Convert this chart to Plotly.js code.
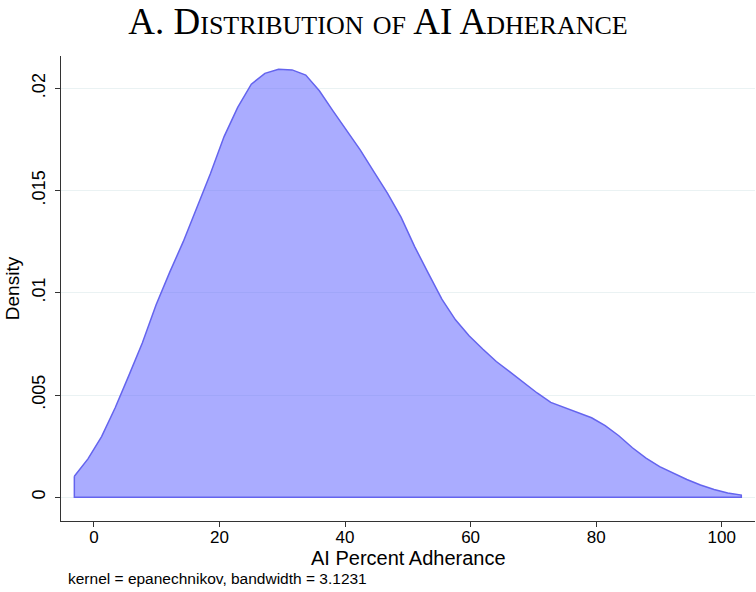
<!DOCTYPE html>
<html>
<head>
<meta charset="utf-8">
<script src="https://cdn.plot.ly/plotly-3.0.1.min.js"></script>
<style>html,body{margin:0;padding:0;background:#fff;}#chart{width:756px;height:592px;}</style>
</head>
<body>
<div id="chart"></div>
<script>
// Kernel density estimate evaluation points (AI percent adherence)
const adherence = [-3.123, -0.955, 1.214, 3.382, 5.550, 7.718, 9.886, 12.055, 14.223, 16.391,
  18.559, 20.727, 22.896, 25.064, 27.232, 29.400, 31.568, 33.737, 35.905, 38.073,
  40.241, 42.409, 44.578, 46.746, 48.914, 51.082, 53.250, 55.419, 57.587, 59.755,
  61.923, 64.091, 66.260, 68.428, 70.596, 72.764, 74.932, 77.101, 79.269, 81.437,
  83.605, 85.773, 87.942, 90.110, 92.278, 94.446, 96.614, 98.783, 100.951, 103.119];
const density = [0.00103, 0.00188, 0.00297, 0.00438, 0.00595, 0.00756, 0.0094, 0.0110, 0.0125, 0.01412,
  0.01583, 0.01764, 0.01907, 0.0202, 0.02073, 0.02093, 0.0209, 0.02065, 0.01988, 0.0189,
  0.01793, 0.01699, 0.01593, 0.01487, 0.0137, 0.01226, 0.01096, 0.00969, 0.00868, 0.0079,
  0.00725, 0.00664, 0.00613, 0.00562, 0.0051, 0.00464, 0.00439, 0.00413, 0.00389, 0.0035,
  0.00301, 0.00242, 0.00192, 0.0015, 0.00118, 0.00087, 0.0006, 0.00038, 0.00021, 0.00011];
const xTicks = [0, 20, 40, 60, 80, 100];
const xTickLabels = ["0", "20", "40", "60", "80", "100"];
const yTicks = [0, 0.005, 0.01, 0.015, 0.02];
const yTickLabels = ["0", ".005", ".01", ".015", ".02"];

// closed polygon (curve + baseline) built from the data
const polyX = adherence.concat([adherence[adherence.length - 1], adherence[0], adherence[0]]);
const polyY = density.concat([0, 0, density[0]]);

const trace = {
  x: polyX, y: polyY, type: 'scatter', mode: 'lines',
  fill: 'toself', fillcolor: 'rgba(85,90,255,0.5)',
  line: {color: 'rgb(100,100,238)', width: 1.5},
  hoverinfo: 'skip', showlegend: false
};

const layout = {
  width: 756, height: 592,
  margin: {l: 61, r: 1, t: 56, b: 71},
  paper_bgcolor: '#fff', plot_bgcolor: '#fff',
  font: {family: 'Liberation Sans, Arial, sans-serif', color: '#000'},
  title: {
    text: 'A. Distribution of AI Adherance',
    font: {family: 'Liberation Serif, DejaVu Serif, serif', size: 37, color: '#000', variant: 'small-caps', weight: 'normal'},
    x: 0.5, xanchor: 'center', y: 0.964, yanchor: 'middle'
  },
  xaxis: {
    range: [-5.25, 105.3], tickvals: xTicks, ticktext: xTickLabels,
    ticks: 'outside', ticklen: 5, tickwidth: 1, tickcolor: '#333',
    showline: true, linecolor: '#333', linewidth: 1,
    showgrid: false, zeroline: false,
    tickfont: {size: 17}, ticklabelstandoff: -4
  },
  yaxis: {
    range: [-0.00116, 0.02158], tickvals: yTicks, ticktext: yTickLabels,
    ticks: 'outside', ticklen: 5, tickwidth: 1, tickcolor: '#333',
    showline: true, linecolor: '#333', linewidth: 1,
    showgrid: true, gridcolor: 'rgb(234,242,243)', gridwidth: 1,
    zeroline: false, tickangle: -90,
    tickfont: {size: 18}, ticklabelstandoff: 3,
    title: {text: 'Density', font: {size: 19}, standoff: 4}
  },
  annotations: [{
    text: 'AI Percent Adherance',
    xref: 'paper', yref: 'paper', x: 0.5, y: -0.0538,
    xanchor: 'center', yanchor: 'top', showarrow: false, borderpad: 0,
    font: {size: 20, color: '#000'}
  }, {
    text: 'kernel = epanechnikov, bandwidth = 3.1231',
    xref: 'paper', yref: 'paper', x: 0.0072, y: -0.124,
    xanchor: 'left', yanchor: 'middle', showarrow: false,
    font: {size: 15.5, color: '#000'}
  }]
};

Plotly.newPlot('chart', [trace], layout, {staticPlot: true, displayModeBar: false});
</script>
</body>
</html>
